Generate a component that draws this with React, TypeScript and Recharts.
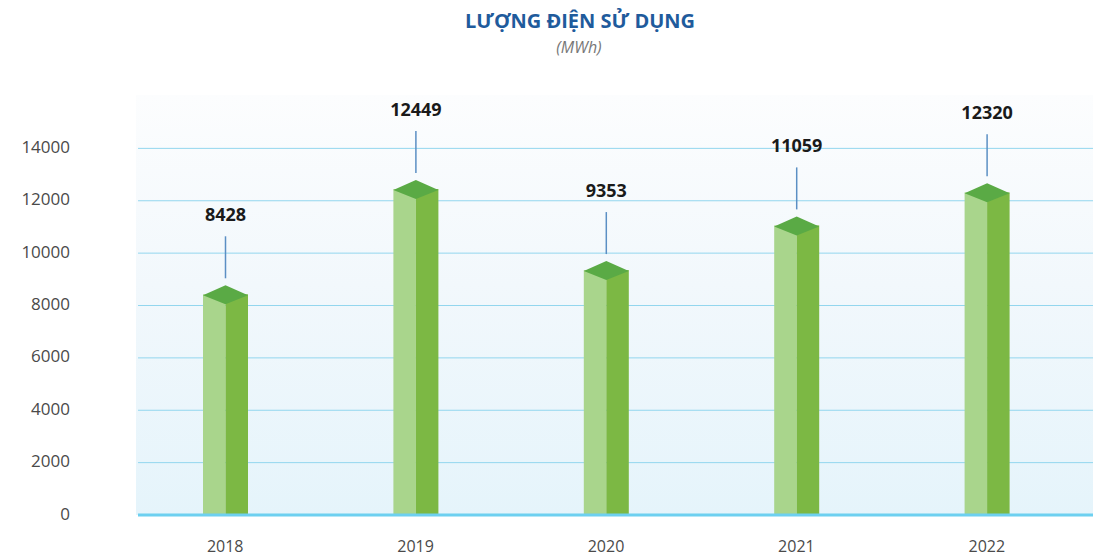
import { BarChart, Bar, XAxis, YAxis, CartesianGrid } from "recharts";

const years = ["2018", "2019", "2020", "2021", "2022"];
const usage = [8428, 12449, 9353, 11059, 12320];
const yTicks = [0, 2000, 4000, 6000, 8000, 10000, 12000, 14000];

const data = years.map((year, i) => ({ year, usage: usage[i] }));

const FONT = "'Open Sans', 'Noto Sans', sans-serif";

function Column(props: any) {
  const { x, y, width, height, value } = props;
  if (!height || height <= 0) return null;
  const cx = x + width / 2;
  return (
    <g>
      <rect x={x} y={y} width={width / 2} height={height} fill="#a9d58c" />
      <rect x={cx} y={y} width={width / 2} height={height} fill="#7cb844" />
      <polygon
        points={`${x},${y + 1} ${cx},${y - 9} ${x + width},${y + 1} ${cx},${y + 10}`}
        fill="#5aaa45"
      />
      <line x1={cx} x2={cx} y1={y - 58} y2={y - 16} stroke="#5b8fc4" strokeWidth={1.5} />
      <text
        x={cx}
        y={y - 80}
        textAnchor="middle"
        dominantBaseline="central"
        fontFamily={FONT}
        fontWeight={700}
        fontSize={18}
        fill="#1a1a1a"
      >
        {value}
      </text>
    </g>
  );
}

function YTick(props: any) {
  const { y, payload } = props;
  return (
    <text x={70} y={y - 2} textAnchor="end" dominantBaseline="central" fontFamily={FONT} fontSize={17} fill="#4a4a4a">
      {payload.value}
    </text>
  );
}

function XTick(props: any) {
  const { x, payload } = props;
  return (
    <text x={x} y={546} textAnchor="middle" dominantBaseline="central" fontFamily={FONT} fontSize={16} fill="#4a4a4a">
      {payload.value}
    </text>
  );
}

export default function App() {
  return (
    <div style={{ position: "absolute", left: 0, top: 0, width: 1093, height: 556, background: "#fff" }}>
      <div
        style={{
          position: "absolute",
          left: 136,
          top: 95,
          width: 957,
          height: 420,
          background: "linear-gradient(to bottom, #fcfdfe 0%, #f2f8fc 45%, #e5f4fb 100%)",
        }}
      />
      <div
        style={{
          position: "absolute",
          left: 0,
          width: 1160,
          top: 7,
          textAlign: "center",
          fontFamily: FONT,
          fontWeight: 700,
          fontSize: 20,
          color: "#1f5b9c",
        }}
      >
        LƯỢNG ĐIỆN SỬ DỤNG
      </div>
      <div
        style={{
          position: "absolute",
          left: 0,
          width: 1158,
          top: 36,
          textAlign: "center",
          fontFamily: FONT,
          fontStyle: "italic",
          fontSize: 16,
          color: "#777",
        }}
      >
        (MWh)
      </div>
      <div style={{ position: "absolute", left: 0, top: 0 }}>
        <BarChart width={1093} height={556} data={data} margin={{ top: 96, right: 0, left: 0, bottom: 0 }}>
          <CartesianGrid vertical={false} horizontalValues={yTicks} stroke="#93d6ee" strokeWidth={1} />
          <YAxis
            width={138}
            domain={[0, 16000]}
            ticks={yTicks}
            axisLine={false}
            tickLine={false}
            tick={<YTick />}
          />
          <XAxis
            dataKey="year"
            height={41}
            padding={{ left: -8, right: 11 }}
            axisLine={{ stroke: "#6dd0f0", strokeWidth: 3 }}
            tickLine={false}
            tick={<XTick />}
          />
          <Bar dataKey="usage" barSize={45} shape={<Column />} isAnimationActive={false} />
        </BarChart>
      </div>
    </div>
  );
}
